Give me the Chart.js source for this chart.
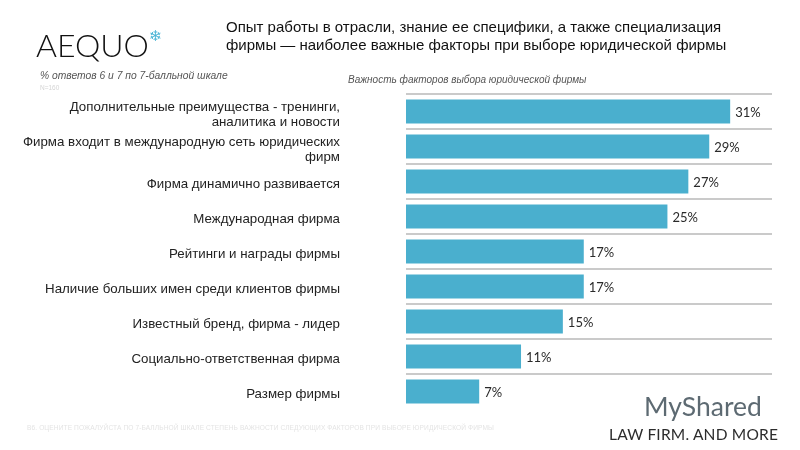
<!DOCTYPE html>
<html lang="ru">
<head>
<meta charset="utf-8">
<title>Важность факторов выбора юридической фирмы</title>
<script src="https://cdn.jsdelivr.net/npm/chart.js@4/dist/chart.umd.min.js"></script>
<style>
    html, body { margin: 0; padding: 0; background: #fff; }
    #wrap { position: relative; width: 800px; height: 450px; overflow: hidden; font-family: 'Liberation Sans', Arial, sans-serif; }
    #wrap canvas { position: absolute; left: 0; top: 0; }
    .txt { position: absolute; white-space: nowrap; }
    .logo { left: 36px; top: 25px; font-family: Lato, sans-serif; font-weight: 300; font-size: 32px; color: #111; }
    .flake { left: 149px; top: 27px; font-family: 'DejaVu Sans', sans-serif; font-size: 15px; color: #4fb6d6; }
    .title { left: 226px; top: 18px; font-size: 15px; line-height: 18px; color: #111; }
    .note { left: 40px; top: 70px; font-size: 10.3px; font-style: italic; color: #555; }
    .n { left: 40px; top: 84px; font-size: 6.5px; color: #d4d4d4; }
    .sub { left: 348px; top: 74px; font-size: 10px; font-style: italic; color: #555; }
    .foot { left: 27px; top: 424px; font-size: 6.6px; color: #e4e4e4; letter-spacing: 0.1px; }
    .ms { left: 644px; top: 390px; font-family: Lato, sans-serif; font-size: 26.5px; color: #5d6a72; }
    .law { left: 609px; top: 425px; font-family: Lato, sans-serif; font-size: 15.5px; color: #2c2c2c; letter-spacing: 0.2px; }
</style>
</head>
<body>
<div id="wrap">
    <canvas id="chart" width="800" height="450"></canvas>
    <div class="txt logo">AEQUO</div>
    <div class="txt flake">❄</div>
    <div class="txt title">Опыт работы в отрасли, знание ее специфики, а также специализация<br>фирмы — наиболее важные факторы при выборе юридической фирмы</div>
    <div class="txt note">% ответов 6 и 7 по 7-балльной шкале</div>
    <div class="txt n">N=160</div>
    <div class="txt sub">Важность факторов выбора юридической фирмы</div>
    <div class="txt foot">В6. ОЦЕНИТЕ ПОЖАЛУЙСТА ПО 7-БАЛЛЬНОЙ ШКАЛЕ СТЕПЕНЬ ВАЖНОСТИ СЛЕДУЮЩИХ ФАКТОРОВ ПРИ ВЫБОРЕ ЮРИДИЧЕСКОЙ ФИРМЫ</div>
    <div class="txt ms">MyShared</div>
    <div class="txt law">LAW FIRM. AND MORE</div>
</div>
<script>
// данные
const categories = [
    ['Дополнительные преимущества - тренинги,', 'аналитика и новости'],
    ['Фирма входит в международную сеть юридических', 'фирм'],
    'Фирма динамично развивается',
    'Международная фирма',
    'Рейтинги и награды фирмы',
    'Наличие больших имен среди клиентов фирмы',
    'Известный бренд, фирма - лидер',
    'Социально-ответственная фирма',
    'Размер фирмы'
];
const values = [31, 29, 27, 25, 17, 17, 15, 11, 7];
const xMin = 0;
const xMax = 35;

const barColor = '#4aafce';

// подписи значений справа от столбиков
const valueLabels = {
    id: 'valueLabels',
    afterDatasetsDraw(chart) {
        const ctx = chart.ctx;
        const meta = chart.getDatasetMeta(0);
        ctx.save();
        ctx.font = '13px Lato, sans-serif';
        ctx.fillStyle = '#2a2a2a';
        ctx.textAlign = 'left';
        ctx.textBaseline = 'middle';
        meta.data.forEach((bar, i) => {
            ctx.fillText(values[i] + '%', bar.x + 5, bar.y + 1);
        });
        ctx.restore();
    }
};

new Chart(document.getElementById('chart'), {
    type: 'bar',
    data: {
        labels: categories,
        datasets: [{
            data: values,
            backgroundColor: barColor,
            borderWidth: 0,
            barPercentage: 0.69,
            categoryPercentage: 1
        }]
    },
    options: {
        indexAxis: 'y',
        responsive: false,
        maintainAspectRatio: false,
        animation: false,
        layout: { padding: { top: 94, bottom: 41, right: 28, left: 0 } },
        plugins: {
            legend: { display: false },
            tooltip: { enabled: false }
        },
        scales: {
            x: { display: false, min: xMin, max: xMax },
            y: {
                afterFit(scale) { scale.width = 406; },
                border: { display: false },
                grid: {
                    offset: true,
                    drawTicks: true,
                    tickLength: 66,
                    tickColor: 'rgba(0,0,0,0)',
                    lineWidth: 2,
                    // нижнюю линию не рисуем
                    color: ctx => ctx.tick ? '#cacaca' : 'rgba(0,0,0,0)'
                },
                ticks: {
                    padding: 0,
                    labelOffset: 3,
                    color: '#222',
                    font: { family: "'Liberation Sans', Arial, sans-serif", size: 13.3, lineHeight: 1.13 }
                }
            }
        }
    },
    plugins: [valueLabels]
});
</script>
</body>
</html>
